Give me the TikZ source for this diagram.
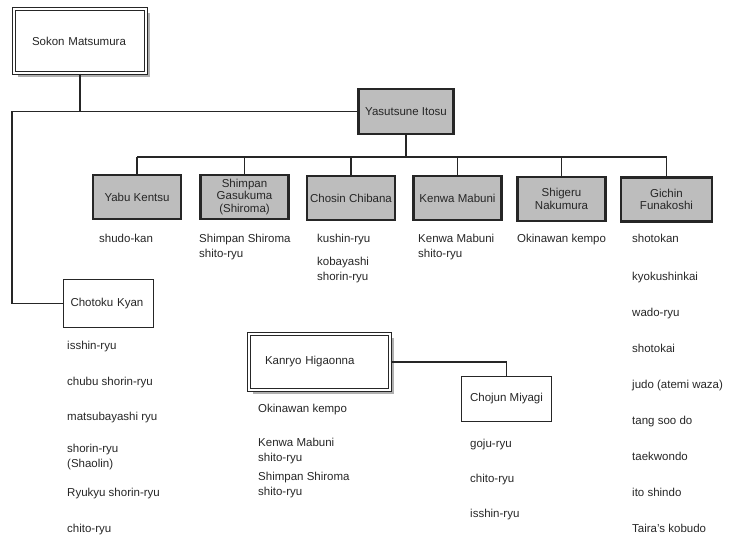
\documentclass[tikz,border=0pt]{standalone}
\usepackage{fontspec}
\setmainfont{Liberation Sans}
\definecolor{ink}{HTML}{262626}
\definecolor{boxgray}{HTML}{BDBDBD}
\definecolor{shade}{HTML}{B0B0B0}
\tikzset{
  rootbox/.style={draw=ink, line width=1pt, double=white, double distance=1.4pt, fill=white,
                  preaction={fill=shade, transform canvas={xshift=3.5pt, yshift=-3.5pt}},
                  align=left, text=ink, font=\fontsize{11.5}{14}\selectfont},
  masterbox/.style={draw=ink, line width=2.2pt, fill=boxgray, align=center, text=ink,
                    inner sep=1pt, minimum width=88pt, minimum height=44pt,
                    font=\fontsize{11.5}{12.5}\selectfont},
  pupilbox/.style={draw=ink, line width=0.9pt, fill=white, align=center, text=ink,
                   font=\fontsize{11.5}{14}\selectfont},
  stylelist/.style={anchor=base west, align=left, inner sep=0pt, text=ink,
                    font=\fontsize{11.5}{15}\selectfont},
  link/.style={line width=1.5pt, draw=ink}}

\begin{document}
\begin{tikzpicture}[x=1pt, y=-1pt]
  \useasboundingbox (0,0) rectangle (741,539);

  \node[rootbox, minimum width=132pt, minimum height=64pt, text width=96pt] (sokon) at (80,41) {Sokon Matsumura};
  \node[masterbox, minimum width=95pt, minimum height=45pt] (itosu) at (406,111.5) {Yasutsune Itosu};

  \node[masterbox] (yabu) at (137,197) {Yabu Kentsu};
  \node[masterbox] (shimpan) at (244.5,197) {Shimpan\\Gasukuma\\(Shiroma)};
  \node[masterbox] (chosin) at (351,198) {Chosin Chibana};
  \node[masterbox] (kenwa) at (457.5,198) {Kenwa Mabuni};
  \node[masterbox] (shigeru) at (561.5,199) {Shigeru\\Nakumura};
  \node[masterbox, minimum width=91pt] (gichin) at (666.5,199.5) {Gichin\\Funakoshi};

  \node[pupilbox, minimum width=90pt, minimum height=48pt, text width=76pt, align=left] (kyan) at (108.5,303.5) {Chotoku Kyan};
  \node[rootbox, minimum width=141pt, minimum height=56pt, text width=109pt] (kanryo) at (319.5,362) {Kanryo Higaonna};
  \node[pupilbox, minimum width=90pt, minimum height=45pt] (chojun) at (506.5,399) {Chojun Miyagi};

  \coordinate (leftrail) at (12,0);
  \coordinate (bus) at (406,157);

  \draw[link] (sokon.south) -- (sokon.south |- itosu.west);
  \draw[link] (itosu.west) -- (itosu.west -| leftrail) |- (kyan.west);
  \draw[link] (itosu.south) -- (bus);
  \draw[link] (yabu.north |- bus) -- (gichin.north |- bus);
  \foreach \m in {yabu,shimpan,chosin,kenwa,shigeru,gichin}
    \draw[link] (\m.north) -- (\m.north |- bus);
  \draw[link] (kanryo.east) -| (chojun.north);

  \node[stylelist] (yabu-list) at (99,242) {shudo-kan};
  \node[stylelist] (shimpan-list) at (199,257) {Shimpan Shiroma\\shito-ryu};
  \node[stylelist] (chosin-list) at (317,280) {kushin-ryu\\[8pt]kobayashi\\shorin-ryu};
  \node[stylelist] (kenwa-list) at (418,257) {Kenwa Mabuni\\shito-ryu};
  \node[stylelist] (shigeru-list) at (517,242) {Okinawan kempo};
  \node[stylelist] (gichin-list) at (632,532) {shotokan\\[23pt]kyokushinkai\\[21pt]wado-ryu\\[21pt]shotokai\\[21pt]judo (atemi waza)\\[21pt]tang soo do\\[21pt]taekwondo\\[21pt]ito shindo\\[21pt]Taira's kobudo};
  \node[stylelist] (kyan-list) at (67,532) {isshin-ryu\\[21pt]chubu shorin-ryu\\[20pt]matsubayashi ryu\\[17pt]shorin-ryu\\(Shaolin)\\[14pt]Ryukyu shorin-ryu\\[21pt]chito-ryu};
  \node[stylelist] (kanryo-list) at (258,495) {Okinawan kempo\\[19pt]Kenwa Mabuni\\shito-ryu\\[4pt]Shimpan Shiroma\\shito-ryu};
  \node[stylelist] (chojun-list) at (470,517) {goju-ryu\\[20pt]chito-ryu\\[20pt]isshin-ryu};
\end{tikzpicture}
\end{document}
